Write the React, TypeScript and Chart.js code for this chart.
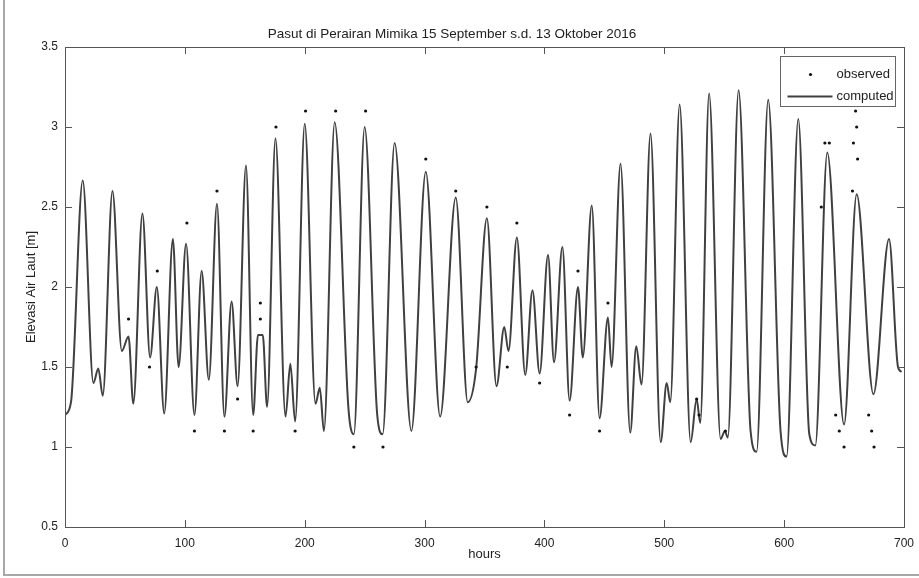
import React, { useEffect, useRef } from 'react';
import { Chart, registerables } from 'chart.js';

Chart.register(...registerables);

const titleText = 'Pasut di Perairan Mimika 15 September s.d. 13 Oktober 2016';
const xTitle = 'hours';
const yTitle = 'Elevasi Air Laut [m]';
const seriesNames = ['observed', 'computed'];

const xTicks = [0, 100, 200, 300, 400, 500, 600, 700];
const yTicks = [0.5, 1, 1.5, 2, 2.5, 3, 3.5];

// computed tide: turning points (hours, metres)
const computedHours = [
  0, 5, 14.8, 23.7, 27.8, 31.5, 39.6, 47.4, 53, 57, 64.6, 71, 76.6, 82.8, 90, 94.8,
  101, 108, 114, 120, 126.8, 133, 139, 144, 151, 157, 161, 165, 168.6, 175.6, 184, 188,
  192, 200, 209, 212.6, 216, 225, 236.5, 241, 250, 260.5, 265, 275, 289, 301, 313, 326,
  336, 343, 352, 360, 366.5, 370, 377, 384, 390, 396, 403, 408, 415, 421, 428, 432,
  439.5, 446, 453, 456, 463.5, 471.6, 476.6, 481, 488.5, 497, 502, 505, 512.8, 522, 527, 530,
  537.4, 547, 550.5, 553, 562, 572, 577, 586.7, 597, 602, 611.8, 621, 626, 636, 650, 660.5,
  674.5, 687.5, 695, 698,
];
const computedValues = [
  1.20, 1.28, 2.665, 1.40, 1.49, 1.32, 2.60, 1.60, 1.69, 1.27, 2.46, 1.56, 2.00, 1.21, 2.30, 1.50,
  2.27, 1.20, 2.10, 1.42, 2.52, 1.19, 1.91, 1.38, 2.76, 1.20, 1.70, 1.70, 1.25, 2.93, 1.19, 1.52,
  1.16, 3.02, 1.27, 1.37, 1.10, 3.03, 1.24, 1.08, 3.00, 1.20, 1.08, 2.90, 1.10, 2.72, 1.19, 2.56,
  1.28, 1.49, 2.43, 1.38, 1.75, 1.60, 2.31, 1.45, 1.98, 1.46, 2.20, 1.53, 2.25, 1.29, 2.00, 1.56,
  2.51, 1.18, 1.81, 1.50, 2.77, 1.09, 1.63, 1.39, 2.96, 1.03, 1.40, 1.28, 3.14, 1.03, 1.30, 1.15,
  3.21, 1.05, 1.10, 1.06, 3.23, 1.10, 0.97, 3.17, 1.10, 0.94, 3.05, 1.08, 1.01, 2.84, 1.14, 2.58,
  1.33, 2.30, 1.50, 1.47,
];

// observed points that stand apart from the computed curve
const observedHours = [
  53, 70.5, 77, 101.7, 108, 126.8, 133, 144, 157, 163, 163, 176, 192, 200.7, 225.8, 241,
  250.8, 265.3, 301, 326, 343, 352, 369, 377, 396, 421, 428, 446, 453, 527, 529, 551,
  631, 634, 637.7, 643, 646, 650, 657, 657.8, 659.6, 660.5, 661.3, 670.5, 673, 675,
];
const observedValues = [
  1.80, 1.50, 2.10, 2.40, 1.10, 2.60, 1.10, 1.30, 1.10, 1.80, 1.90, 3.00, 1.10, 3.10, 3.10, 1.00,
  3.10, 1.00, 2.80, 2.60, 1.50, 2.50, 1.50, 2.40, 1.40, 1.20, 2.10, 1.10, 1.90, 1.30, 1.20, 1.10,
  2.50, 2.90, 2.90, 1.20, 1.10, 1.00, 2.60, 2.90, 3.10, 3.00, 2.80, 1.20, 1.10, 1.00,
];

const FONT = 'Liberation Sans, Arial, sans-serif';

const framePlugin = {
  id: 'matlabFrame',
  afterDraw(chart: any) {
    const { ctx, chartArea: a, scales } = chart;
    const xs = scales.x;
    const ys = scales.y;
    ctx.save();
    // axes box
    ctx.strokeStyle = '#555';
    ctx.lineWidth = 1;
    ctx.strokeRect(Math.round(a.left) + 0.5, Math.round(a.top) + 0.5, Math.round(a.right - a.left), Math.round(a.bottom - a.top));
    // inward ticks on all sides
    const tl = 7;
    ctx.beginPath();
    for (const v of xTicks) {
      const px = Math.round(xs.getPixelForValue(v)) + 0.5;
      ctx.moveTo(px, a.bottom);
      ctx.lineTo(px, a.bottom - tl);
      ctx.moveTo(px, a.top);
      ctx.lineTo(px, a.top + tl);
    }
    for (const v of yTicks) {
      const py = Math.round(ys.getPixelForValue(v)) + 0.5;
      ctx.moveTo(a.left, py);
      ctx.lineTo(a.left + tl, py);
      ctx.moveTo(a.right, py);
      ctx.lineTo(a.right - tl, py);
    }
    ctx.stroke();

    // legend box inside top-right
    const bw = 115;
    const bh = 50;
    const bx = Math.round(a.right - 9 - bw) + 0.5;
    const by = Math.round(a.top + 9) + 0.5;
    ctx.fillStyle = '#fff';
    ctx.fillRect(bx, by, bw, bh);
    ctx.strokeStyle = '#666';
    ctx.strokeRect(bx, by, bw, bh);
    ctx.font = `13px ${FONT}`;
    ctx.textBaseline = 'middle';
    ctx.textAlign = 'left';
    const r1 = by + 18;
    const r2 = by + 40;
    ctx.beginPath();
    ctx.fillStyle = '#111';
    ctx.arc(bx + 30, r1, 1.6, 0, Math.PI * 2);
    ctx.fill();
    ctx.strokeStyle = '#404040';
    ctx.lineWidth = 2;
    ctx.beginPath();
    ctx.moveTo(bx + 7, r2);
    ctx.lineTo(bx + 52, r2);
    ctx.stroke();
    ctx.fillStyle = '#222';
    ctx.fillText(seriesNames[0], bx + 56, r1);
    ctx.fillText(seriesNames[1], bx + 56, r2);

    // figure border (left and bottom)
    ctx.strokeStyle = '#a8a8a8';
    ctx.lineWidth = 2;
    ctx.beginPath();
    ctx.moveTo(4, 0);
    ctx.lineTo(4, 575);
    ctx.lineTo(919, 575);
    ctx.stroke();
    ctx.restore();
  },
};

export default function App() {
  const ref = useRef<HTMLCanvasElement | null>(null);

  useEffect(() => {
    if (!ref.current) return;
    const chart = new Chart(ref.current, {
      type: 'line',
      data: {
        datasets: [
          {
            label: seriesNames[0],
            data: observedHours.map((h, i) => ({ x: h, y: observedValues[i] })),
            showLine: false,
            pointRadius: 1.6,
            pointBackgroundColor: '#111',
            pointBorderWidth: 0,
            order: 0,
          },
          {
            label: seriesNames[1],
            data: computedHours.map((h, i) => ({ x: h, y: computedValues[i] })),
            borderColor: '#404040',
            borderWidth: 2,
            pointRadius: 0,
            cubicInterpolationMode: 'monotone',
            fill: false,
            order: 1,
          },
        ],
      },
      options: {
        animation: false,
        responsive: false,
        events: [],
        layout: { padding: { left: 0, right: 15, top: 0, bottom: 0 } },
        plugins: {
          legend: { display: false },
          tooltip: { enabled: false },
          title: {
            display: true,
            text: titleText,
            color: '#222',
            font: { family: FONT, size: 13.5, weight: 'normal' },
            padding: { top: 26, bottom: 4.8 },
          },
        },
        scales: {
          x: {
            type: 'linear',
            min: 0,
            max: 700,
            afterFit: (s: any) => {
              s.height = 51;
              s.paddingLeft = 0;
              s.paddingRight = 0;
            },
            grid: { display: false, drawTicks: false },
            border: { display: false },
            ticks: {
              stepSize: 100,
              padding: 9,
              color: '#222',
              font: { family: FONT, size: 12 },
              maxRotation: 0,
            },
            title: {
              display: true,
              text: xTitle,
              color: '#222',
              font: { family: FONT, size: 13 },
              padding: { top: 0, bottom: 16 },
            },
          },
          y: {
            type: 'linear',
            min: 0.5,
            max: 3.5,
            afterFit: (s: any) => {
              s.width = 65;
            },
            grid: { display: false, drawTicks: false },
            border: { display: false },
            ticks: {
              stepSize: 0.5,
              padding: 7,
              color: '#222',
              font: { family: FONT, size: 12 },
              callback: (v: any) => String(Number(v)),
            },
            title: {
              display: true,
              text: yTitle,
              color: '#222',
              font: { family: FONT, size: 13 },
              padding: { top: 24, bottom: 0 },
            },
          },
        },
      },
      plugins: [framePlugin],
    } as any);
    return () => chart.destroy();
  }, []);

  return (
    <div style={{ position: 'absolute', left: 0, top: 0, width: 919, height: 578, background: '#fff' }}>
      <canvas ref={ref} width={919} height={578} />
    </div>
  );
}
